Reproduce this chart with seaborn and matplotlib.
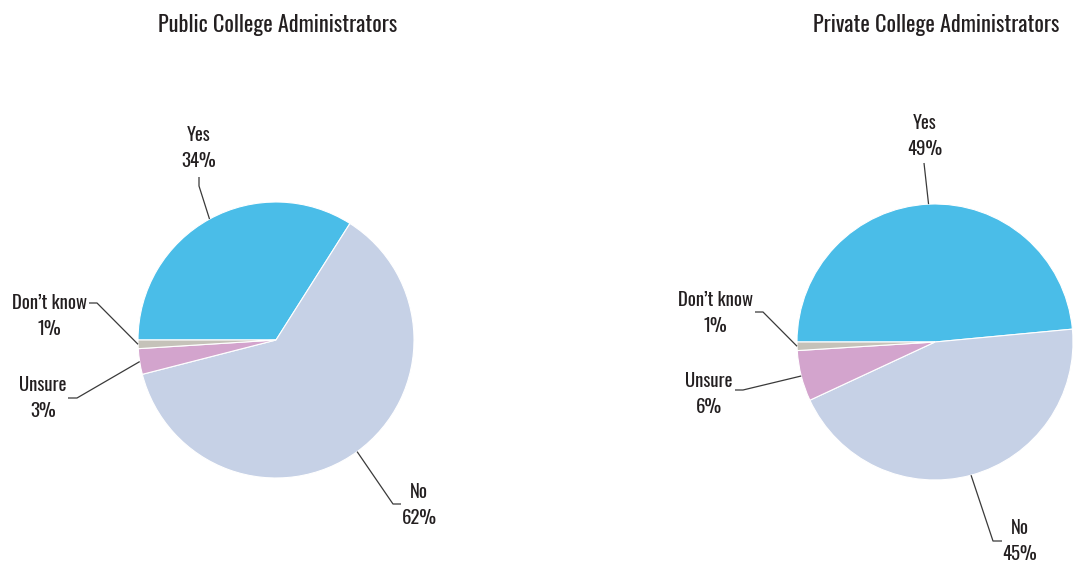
import numpy as np
import matplotlib
matplotlib.use("Agg")
import matplotlib.pyplot as plt
import seaborn as sns

# Survey answers
categories = ["Yes", "No", "Unsure", "Don\u2019t know"]
public_pct = [34, 62, 3, 1]
private_pct = [49, 45, 6, 1]
titles = ["Public College Administrators", "Private College Administrators"]

colors = ["#4abde8", "#c6d1e6", "#d3a4cd", "#c5c2b9"]

sns.set_theme(style="white")
plt.rcParams["font.family"] = ["Oswald", "DejaVu Sans"]

W, H = 1073, 565
fig = plt.figure(figsize=(W / 100, H / 100), dpi=100)
ax = fig.add_axes([0, 0, 1, 1])

TEXT = "#231f20"
LINE = "#3a3a3a"
R = 138


def py(y):
    # convert a top-down pixel row to the axes' bottom-up coordinate
    return H - y


# per-pie layout: centre, title position, label anchors and leader elbows
pies = [
    dict(values=public_pct, center=(276, 340), title_x=278,
         labels={
             "Yes": dict(text=(199, 148), path=[(199, 177), (199, 186)]),
             "No": dict(text=(419, 505), path=[(401, 504), (393, 504)]),
             "Unsure": dict(text=(43, 398), path=[(68, 398), (77, 398)]),
             "Don\u2019t know": dict(text=(49, 316), path=[(89, 303), (97, 303)]),
         }),
    dict(values=private_pct, center=(935, 342), title_x=936,
         labels={
             "Yes": dict(text=(925, 136), path=[(924, 163)]),
             "No": dict(text=(1020, 541), path=[(1002, 541), (993, 541)]),
             "Unsure": dict(text=(709, 394), path=[(735, 390), (743, 390)]),
             "Don\u2019t know": dict(text=(715, 313), path=[(755, 312), (763, 312)]),
         }),
]

for p, title in zip(pies, titles):
    cx, cy = p["center"]
    vals = np.asarray(p["values"], dtype=float)
    wedges, _ = ax.pie(vals, colors=colors, startangle=180, counterclock=False,
                       center=(cx, py(cy)), radius=R,
                       wedgeprops=dict(edgecolor="white", linewidth=0.8))
    for w, cat, v in zip(wedges, categories, p["values"]):
        mid = np.deg2rad((w.theta1 + w.theta2) / 2)
        ex = cx + R * np.cos(mid)
        ey = py(cy) + R * np.sin(mid)
        lab = p["labels"][cat]
        xs = [q[0] for q in lab["path"]] + [ex]
        ys = [py(q[1]) for q in lab["path"]] + [ey]
        ax.plot(xs, ys, color=LINE, lw=0.9, solid_capstyle="butt")
        tx, ty = lab["text"]
        ax.text(tx, py(ty), f"{cat}\n{v}%", ha="center", va="center",
                fontsize=13.5, color=TEXT, linespacing=1.5, weight="medium")
    ax.text(p["title_x"], py(25), title, ha="center",
            va="center", fontsize=16, color=TEXT, weight="medium")

ax.set_xlim(0, W)
ax.set_ylim(0, H)
ax.set_aspect("equal")
ax.axis("off")

fig.savefig("out.png", dpi=100, facecolor="white")
